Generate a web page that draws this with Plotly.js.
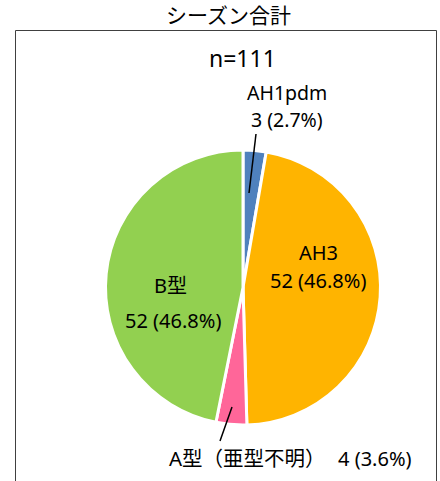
<!DOCTYPE html>
<html>
<head>
<meta charset="utf-8">
<script src="https://cdn.plot.ly/plotly-3.0.1.min.js"></script>
<style>html,body{margin:0;padding:0;background:#fff;}#chart{width:440px;height:481px;}</style>
</head>
<body>
<div id="chart"></div>
<script>
const categories = ["AH1pdm", "AH3", "A型（亜型不明）", "B型"];
const counts = [3, 52, 4, 52];
const percents = ["2.7%", "46.8%", "3.6%", "46.8%"];
const colors = ["#4F81BD", "#FFB400", "#FF6699", "#92D050"];
const chartTitle = "シーズン合計";
const totalLabel = "n=111";

const W = 440, H = 481;
const px = x => x / W;
const py = y => 1 - y / H;
const FONT = 'Noto Sans, "Noto Sans CJK JP", sans-serif';
const valText = i => counts[i] + " (" + percents[i] + ")";

const trace = {
  type: "pie",
  labels: categories,
  values: counts,
  sort: false,
  direction: "clockwise",
  rotation: 0,
  textinfo: "none",
  hoverinfo: "none",
  marker: {colors: colors, line: {color: "#ffffff", width: 3}},
  domain: {x: [px(243 - 137.5), px(243 + 137.5)], y: [py(425), py(150)]},
  showlegend: false
};

const ann = (x, y, text, size, xanchor) => ({
  xref: "paper", yref: "paper", x: px(x), y: py(y), text: text,
  showarrow: false, xanchor: xanchor || "center", yanchor: "middle",
  font: {family: FONT, size: size, color: "#000"}
});

const layout = {
  width: W, height: H,
  margin: {l: 0, r: 0, t: 0, b: 0},
  paper_bgcolor: "#fff",
  title: {text: chartTitle, x: px(228.5), xanchor: "center", y: py(16), yanchor: "middle",
          font: {family: FONT, size: 21, color: "#000"}},
  annotations: [
    ann(242, 58, totalLabel, 23),
    ann(287, 92, categories[0], 19.5),
    ann(287, 119, valText(0), 19.5),
    ann(318, 252, categories[1], 20),
    ann(318, 280, valText(1), 20),
    ann(170, 285, categories[3], 20),
    ann(173, 320, valText(3), 20),
    ann(167, 458, categories[2], 20.5, "left"),
    ann(336, 458, valText(2), 20, "left")
  ],
  shapes: [
    {type: "rect", xref: "paper", yref: "paper", x0: px(15.5), x1: px(436.5), y0: -0.05, y1: py(30.5),
     line: {color: "#404040", width: 1}, fillcolor: "rgba(0,0,0,0)"},
    {type: "line", xref: "paper", yref: "paper", x0: px(249), y0: py(193), x1: px(256), y1: py(134),
     line: {color: "#000", width: 1.5}},
    {type: "line", xref: "paper", yref: "paper", x0: px(232), y0: py(407), x1: px(220), y1: py(441),
     line: {color: "#000", width: 1.5}}
  ]
};

Plotly.newPlot("chart", [trace], layout, {staticPlot: true, displayModeBar: false});
</script>
</body>
</html>
